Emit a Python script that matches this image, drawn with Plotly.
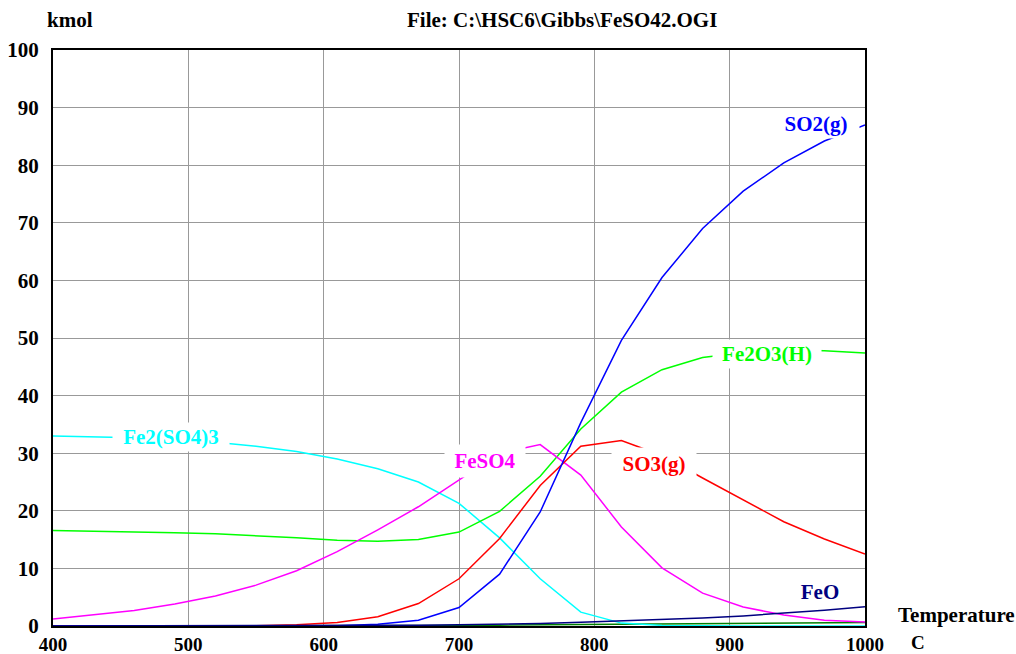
import plotly.graph_objects as go

temperature = [400, 430, 460, 490, 520, 550, 580, 610, 640, 670, 700,
               730, 760, 790, 820, 850, 880, 910, 940, 970, 1000]

so2_g = [0, 0, 0, 0, 0, 0, 0, 0.05, 0.3, 1.0, 3.2,
         9.0, 19.8, 35.3, 49.6, 60.5, 69.0, 75.5, 80.4, 84.2, 87.0]
fe2o3_h = [16.6, 16.5, 16.4, 16.2, 16.0, 15.7, 15.3, 14.9, 14.7, 15.0, 16.3,
           19.9, 26.0, 34.2, 40.6, 44.5, 46.6, 47.5, 47.9, 47.8, 47.4]
fe2_so4_3 = [33.0, 32.9, 32.7, 32.4, 31.9, 31.2, 30.3, 29.0, 27.3, 25.0, 21.3,
             15.3, 8.2, 2.4, 0.5, 0.1, 0, 0, 0, 0, 0]
feso4 = [1.2, 1.9, 2.7, 3.8, 5.2, 7.1, 9.6, 12.9, 16.7, 20.7, 25.3,
         30.0, 31.5, 26.2, 17.2, 10.1, 5.7, 3.3, 1.9, 1.0, 0.7]
so3_g = [0, 0, 0, 0, 0, 0.05, 0.2, 0.6, 1.6, 3.9, 8.2,
         15.2, 24.4, 31.2, 32.2, 29.6, 25.7, 21.9, 18.1, 15.1, 12.5]
feo = [0, 0, 0, 0, 0, 0.01, 0.02, 0.04, 0.07, 0.12, 0.2,
       0.3, 0.45, 0.65, 0.87, 1.1, 1.4, 1.75, 2.2, 2.75, 3.35]
minor_species = [0, 0, 0, 0, 0, 0, 0, 0, 0.02, 0.05, 0.1,
                 0.15, 0.2, 0.25, 0.3, 0.35, 0.4, 0.45, 0.5, 0.55, 0.6]

x_ticks = [400, 500, 600, 700, 800, 900, 1000]
y_ticks = [0, 10, 20, 30, 40, 50, 60, 70, 80, 90, 100]

series = [
    ("minor", minor_species, "#008000"),
    ("Fe2(SO4)3", fe2_so4_3, "#00FFFF"),
    ("Fe2O3(H)", fe2o3_h, "#00FF00"),
    ("FeSO4", feso4, "#FF00FF"),
    ("SO3(g)", so3_g, "#FF0000"),
    ("SO2(g)", so2_g, "#0000FF"),
    ("FeO", feo, "#000080"),
]

FONT = "Liberation Serif"
FS = 21

fig = go.Figure()
for name, vals, col in series:
    fig.add_trace(go.Scatter(x=temperature, y=vals, mode="lines", name=name,
                             line=dict(color=col, width=1.5), showlegend=False))

# in-plot labels (white boxes interrupt lines as in original)
labels = [
    ("SO2(g)", 964, 87.1, "#0000FF", 84, 26),
    ("Fe2O3(H)", 927.5, 47.2, "#00FF00", 106, 26),
    ("Fe2(SO4)3", 487, 32.8, "#00FFFF", 114, 26),
    ("FeSO4", 719.5, 28.6, "#FF00FF", 78, 30),
    ("SO3(g)", 844, 28.2, "#FF0000", 82, 30),
    ("FeO", 967, 5.9, "#000080", 50, 26),
]
for txt, xv, yv, col, w, h in labels:
    fig.add_annotation(x=xv, y=yv, xref="x", yref="y", text="<b>%s</b>" % txt,
                       showarrow=False, bgcolor="white", width=w, height=h,
                       font=dict(family=FONT, size=FS, color=col))

axis_font = dict(family=FONT, size=FS, color="black")
xtick_font = dict(family=FONT, size=19, color="black")
PW, PH = 812.0, 576.0


def px_to_paper(px, py):
    return (px - 53) / PW, (626 - py) / PH


def header(text, px, py, xanchor="center", font=axis_font):
    hx, hy = px_to_paper(px, py)
    fig.add_annotation(x=hx, y=hy, xref="paper", yref="paper",
                       xanchor=xanchor, yanchor="middle",
                       text="<b>%s</b>" % text, showarrow=False, font=font)


header("kmol", 70, 20)
header("File: C:\\HSC6\\Gibbs\\FeSO42.OGI", 562, 20)
header("Temperature", 896, 615, xanchor="left")
header("C", 918, 642, font=xtick_font)

fig.update_layout(
    width=1016, height=654,
    margin=dict(l=53, r=151, t=50, b=28),
    paper_bgcolor="white", plot_bgcolor="white",
    xaxis=dict(range=[400, 1000], tickvals=x_ticks,
               ticktext=["<b>%d</b>" % v for v in x_ticks],
               showgrid=True, gridcolor="#999999", gridwidth=1,
               showline=True, linecolor="black", linewidth=2, mirror=True,
               ticks="", tickfont=xtick_font, zeroline=False,
               ticklabelstandoff=0, automargin=False),
    yaxis=dict(range=[0, 100], tickvals=y_ticks,
               ticktext=["<b>%d</b>" % v for v in y_ticks],
               showgrid=True, gridcolor="#999999", gridwidth=1,
               showline=True, linecolor="black", linewidth=2, mirror=True,
               ticks="", tickfont=axis_font, zeroline=False,
               ticklabelstandoff=8, automargin=False),
)

fig.write_html("out.html")
